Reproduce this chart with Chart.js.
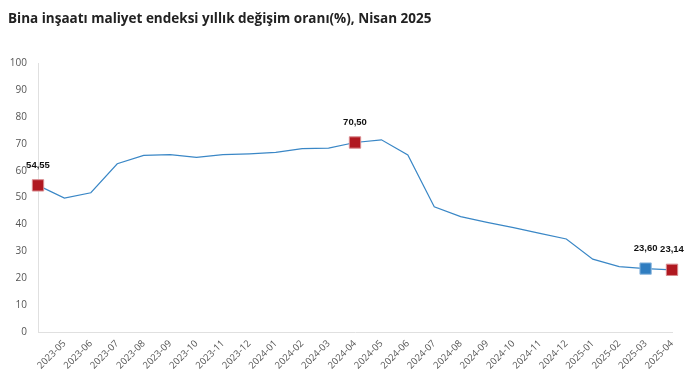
<!DOCTYPE html>
<html><head><meta charset="utf-8">
<script src="https://cdn.jsdelivr.net/npm/chart.js@4/dist/chart.umd.min.js"></script>
<style>html,body{margin:0;padding:0;background:#fff}#wrap{width:692px;height:387px;position:relative}</style>
</head><body><div id="wrap"><canvas id="c" width="692" height="387"></canvas></div>
<script>
const categories = ['2023-04','2023-05','2023-06','2023-07','2023-08','2023-09','2023-10','2023-11','2023-12','2024-01','2024-02','2024-03','2024-04','2024-05','2024-06','2024-07','2024-08','2024-09','2024-10','2024-11','2024-12','2025-01','2025-02','2025-03','2025-04'];
const values = [54.55,49.8,51.8,62.6,65.7,66.0,65.0,66.0,66.3,66.8,68.2,68.4,70.50,71.5,65.9,46.6,42.9,40.8,38.8,36.7,34.6,27.1,24.3,23.60,23.14];
const highlightIdx = [0,12,23,24];
const highlightColors = {0:'#B01820',12:'#B01820',23:'#2F7DC0',24:'#B01820'};
const yTicks = [0,10,20,30,40,50,60,70,80,90,100];

const labelPlugin = {
  id:'pointLabels',
  afterDatasetsDraw(chart){
    const ctx = chart.ctx, meta = chart.getDatasetMeta(0);
    ctx.save();
    ctx.font = 'bold 9.5px "Liberation Sans", Arial, sans-serif';
    ctx.fillStyle = '#111';
    ctx.textAlign = 'center';
    ctx.textBaseline = 'middle';
    highlightIdx.forEach(i=>{
      const p = meta.data[i];
      ctx.fillText(values[i].toFixed(2).replace('.',','), p.x, p.y - 20);
    });
    ctx.restore();
  }
};

new Chart(document.getElementById('c'), {
  type:'line',
  data:{labels:categories, datasets:[{
    data:values,
    borderColor:'#3A87C6',
    borderWidth:1.2,
    tension:0,
    pointStyle:'rect',
    pointRadius:ctx=>highlightIdx.includes(ctx.dataIndex)?8:0,
    pointHoverRadius:ctx=>highlightIdx.includes(ctx.dataIndex)?8:0,
    pointBackgroundColor:ctx=>highlightColors[ctx.dataIndex]||'#3A87C6',
    pointBorderColor:ctx=>highlightColors[ctx.dataIndex]?(ctx.dataIndex===23?'#8DB8DE':'#D98A8E'):'#3A87C6',
    pointBorderWidth:1
  }]},
  options:{
    responsive:false, animation:false,
    layout:{padding:{left:8,right:20,top:0,bottom:0}},
    plugins:{
      legend:{display:false}, tooltip:{enabled:false},
      title:{display:true, text:'Bina inşaatı maliyet endeksi yıllık değişim oranı(%), Nisan 2025',
        align:'start', color:'#222', font:{family:'"Open Sans", sans-serif', size:13.5, weight:'bold'},
        padding:{top:11,bottom:36}}
    },
    scales:{
      x:{offset:false, grid:{display:false, drawTicks:false}, border:{display:true,color:'#e0e0e0'},
        ticks:{autoSkip:false, maxRotation:45, minRotation:45, padding:6, color:'#555',
          font:{family:'"Open Sans", sans-serif', size:9.5},
          callback:(v,i)=> i===0 ? '' : categories[i]},
        afterFit:s=>{s.height=55;}},
      y:{min:0,max:100, grid:{display:false, drawTicks:false}, border:{display:true,color:'#e0e0e0'},
        afterBuildTicks:s=>{s.ticks=yTicks.map(v=>({value:v}));},
        ticks:{padding:11, color:'#555', font:{family:'"Open Sans", sans-serif', size:10}},
        afterFit:s=>{s.width=30;}}
    }
  },
  plugins:[labelPlugin]
});
</script></body></html>
